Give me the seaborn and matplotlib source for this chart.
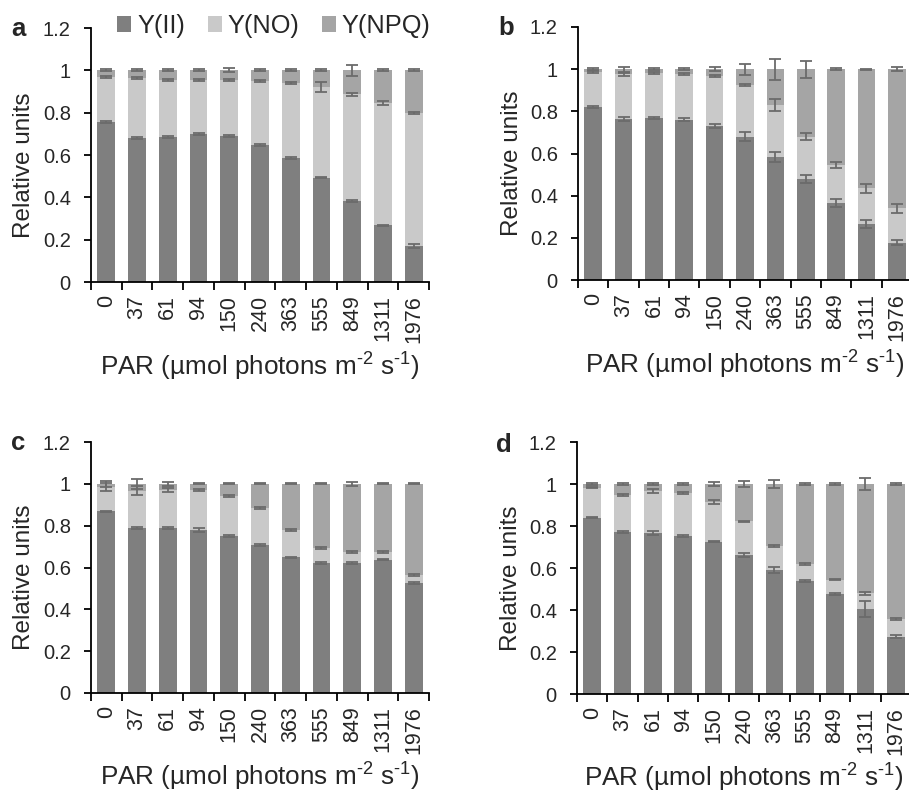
import numpy as np
import pandas as pd
import matplotlib
matplotlib.use("Agg")
import matplotlib.pyplot as plt
from matplotlib.patches import Patch
import seaborn as sns

# ---------------- data ----------------
par_labels = ["0", "37", "61", "94", "150", "240", "363", "555", "849", "1311", "1976"]
series_names = ["Y(II)", "Y(NO)", "Y(NPQ)"]

YII_a = [0.755, 0.680, 0.684, 0.700, 0.690, 0.646, 0.585, 0.493, 0.382, 0.267, 0.170]
YNO_a = [0.215, 0.285, 0.269, 0.253, 0.263, 0.302, 0.355, 0.429, 0.504, 0.580, 0.630]
YNPQ_a = [0.030, 0.035, 0.047, 0.047, 0.047, 0.052, 0.060, 0.078, 0.114, 0.153, 0.200]
eII_a = [0.004, 0.004, 0.004, 0.004, 0.004, 0.004, 0.004, 0.004, 0.004, 0.004, 0.010]
eNO_a = [0.005, 0.005, 0.005, 0.005, 0.005, 0.005, 0.005, 0.022, 0.007, 0.010, 0.005]
eNPQ_a = [0.005, 0.005, 0.005, 0.005, 0.010, 0.005, 0.005, 0.005, 0.025, 0.005, 0.005]

YII_b = [0.821, 0.765, 0.769, 0.761, 0.729, 0.680, 0.585, 0.479, 0.365, 0.266, 0.177]
YNO_b = [0.164, 0.210, 0.211, 0.217, 0.238, 0.245, 0.245, 0.201, 0.180, 0.169, 0.163]
YNPQ_b = [0.015, 0.025, 0.020, 0.022, 0.033, 0.075, 0.170, 0.320, 0.455, 0.565, 0.660]
eII_b = [0.005, 0.010, 0.005, 0.008, 0.010, 0.022, 0.024, 0.020, 0.020, 0.019, 0.012]
eNO_b = [0.005, 0.008, 0.005, 0.005, 0.005, 0.005, 0.029, 0.016, 0.015, 0.020, 0.020]
eNPQ_b = [0.005, 0.012, 0.005, 0.005, 0.010, 0.026, 0.050, 0.040, 0.005, 0.003, 0.008]

YII_c = [0.868, 0.790, 0.790, 0.779, 0.751, 0.706, 0.648, 0.621, 0.622, 0.638, 0.527]
YNO_c = [0.117, 0.178, 0.180, 0.192, 0.193, 0.177, 0.132, 0.074, 0.053, 0.038, 0.036]
YNPQ_c = [0.015, 0.032, 0.030, 0.029, 0.056, 0.117, 0.220, 0.305, 0.325, 0.324, 0.437]
eII_c = [0.004, 0.004, 0.004, 0.010, 0.004, 0.004, 0.004, 0.004, 0.004, 0.004, 0.004]
eNO_c = [0.020, 0.020, 0.010, 0.005, 0.005, 0.005, 0.005, 0.005, 0.005, 0.005, 0.005]
eNPQ_c = [0.015, 0.025, 0.008, 0.003, 0.003, 0.003, 0.003, 0.003, 0.008, 0.003, 0.003]

YII_d = [0.840, 0.770, 0.767, 0.751, 0.726, 0.662, 0.590, 0.539, 0.477, 0.407, 0.273]
YNO_d = [0.143, 0.179, 0.200, 0.205, 0.189, 0.160, 0.115, 0.079, 0.068, 0.072, 0.084]
YNPQ_d = [0.017, 0.051, 0.033, 0.044, 0.085, 0.178, 0.295, 0.382, 0.455, 0.521, 0.643]
eII_d = [0.004, 0.004, 0.008, 0.004, 0.004, 0.010, 0.014, 0.004, 0.004, 0.038, 0.008]
eNO_d = [0.004, 0.004, 0.008, 0.004, 0.011, 0.004, 0.004, 0.004, 0.004, 0.008, 0.004]
eNPQ_d = [0.003, 0.003, 0.003, 0.003, 0.008, 0.015, 0.020, 0.003, 0.003, 0.030, 0.003]

yticks = [0, 0.2, 0.4, 0.6, 0.8, 1.0, 1.2]
ytick_labels = ["0", "0.2", "0.4", "0.6", "0.8", "1", "1.2"]

# ---------------- style ----------------
sns.set_style("ticks")
plt.rcParams["font.family"] = ["Liberation Sans", "DejaVu Sans"]
plt.rcParams["mathtext.fontset"] = "custom"
plt.rcParams["mathtext.rm"] = "Liberation Sans"
plt.rcParams["mathtext.it"] = "Liberation Sans:italic"
plt.rcParams["mathtext.bf"] = "Liberation Sans:bold"

col_II = "#7f7f7f"
col_NO = "#c9c9c9"
col_NPQ = "#a5a5a5"
col_err = "#6b6b6b"

W, H = 909, 793
fig = plt.figure(figsize=(W / 100, H / 100), dpi=100)


def ax_rect(left, top, bottom, width=338):
    return [left / W, 1 - bottom / H, width / W, (bottom - top) / H]


panels = [
    ("a", ax_rect(91, 28, 282), (YII_a, YNO_a, YNPQ_a), (eII_a, eNO_a, eNPQ_a), (11, 36)),
    ("b", ax_rect(578, 27, 280, 334), (YII_b, YNO_b, YNPQ_b), (eII_b, eNO_b, eNPQ_b), (498, 35)),
    ("c", ax_rect(91, 442, 693), (YII_c, YNO_c, YNPQ_c), (eII_c, eNO_c, eNPQ_c), (11, 450)),
    ("d", ax_rect(577, 442, 694, 334), (YII_d, YNO_d, YNPQ_d), (eII_d, eNO_d, eNPQ_d), (496, 452)),
]

xlabel_text = r"PAR (µmol photons m$^{\mathrm{‐2}}$ s$^{\mathrm{‐1}}$)"

axes = []
for letter, rect, vals, errs, lpos in panels:
    ax = fig.add_axes(rect)
    yii, yno, ynpq = [np.asarray(v) for v in vals]
    cum_II = yii
    cum_NO = yii + yno
    cum_NPQ = yii + yno + ynpq
    df = pd.DataFrame({"PAR": par_labels, "II": cum_II, "NO": cum_NO, "NPQ": cum_NPQ})
    for key, col in (("NPQ", col_NPQ), ("NO", col_NO), ("II", col_II)):
        sns.barplot(data=df, x="PAR", y=key, order=par_labels, color=col,
                    saturation=1, width=0.58, ax=ax, edgecolor="none", zorder=2)
    x = np.arange(len(par_labels))
    for tops, e in ((cum_II, errs[0]), (cum_NO, errs[1]), (cum_NPQ, errs[2])):
        ax.errorbar(x, tops, yerr=e, fmt="none", ecolor=col_err, elinewidth=1.3,
                    capsize=4.2, capthick=1.3, zorder=3)

    ax.set_xlim(-0.5, len(par_labels) - 0.5)
    ax.set_ylim(0, 1.2)
    ax.set_yticks(yticks)
    ax.set_yticklabels(ytick_labels)
    ax.set_xticks(x)
    ax.set_xticklabels(par_labels, rotation=90, va="top", ha="center")
    ax.set_xticks(np.arange(-0.5, len(par_labels), 1), minor=True)
    ax.tick_params(axis="x", which="major", length=0, pad=9.5, labelsize=15.5)
    ax.tick_params(axis="x", which="minor", length=6, width=1.3, direction="out", color="black")
    ax.tick_params(axis="y", which="major", length=5, width=1.3, pad=9.5, labelsize=14.5,
                   direction="out", color="black")
    for s in ("top", "right"):
        ax.spines[s].set_visible(False)
    for s in ("left", "bottom"):
        ax.spines[s].set_linewidth(1.3)
        ax.spines[s].set_color("black")

    ax.set_ylabel("Relative units", fontsize=17.5)
    ax.yaxis.set_label_coords(-0.165, 0.46)
    ax.set_xlabel(xlabel_text, fontsize=18.8)
    ax.xaxis.set_label_coords(0.5, -0.27)
    fig.text(lpos[0] / W, 1 - lpos[1] / H, letter, fontsize=18.5, fontweight="bold",
             va="baseline", ha="left")
    axes.append(ax)

handles = [Patch(facecolor=c, edgecolor="none") for c in (col_II, col_NO, col_NPQ)]
axes[0].legend(handles, series_names, loc="center", bbox_to_anchor=(274 / W, 1 - 26 / H),
               bbox_transform=fig.transFigure, ncol=3, frameon=False, fontsize=18.3,
               handlelength=0.55, handleheight=0.55, handletextpad=0.24,
               columnspacing=0.87, borderpad=0, borderaxespad=0)

fig.savefig("out.png", dpi=100)
